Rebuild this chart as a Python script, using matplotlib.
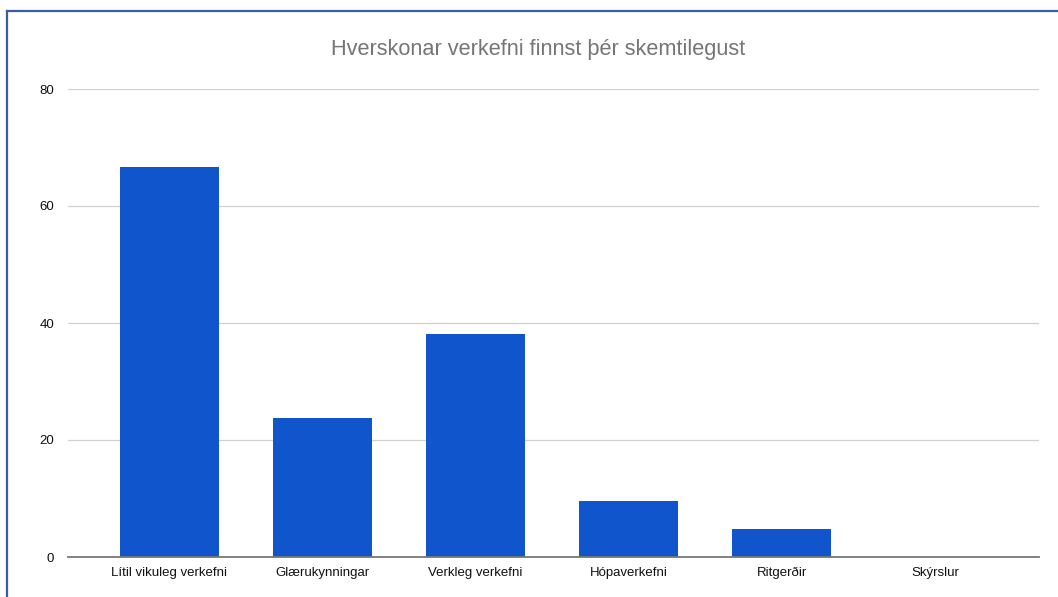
import matplotlib
matplotlib.use("Agg")
import matplotlib.pyplot as plt
from matplotlib.lines import Line2D

# Data
flokkar = ["Lítil vikuleg verkefni", "Glærukynningar", "Verkleg verkefni",
           "Hópaverkefni", "Ritgerðir", "Skýrslur"]
gildi = [66.7, 23.8, 38.1, 9.5, 4.8, 0]
y_ticks = [0, 20, 40, 60, 80]

plt.rcParams["font.family"] = ["Liberation Sans", "DejaVu Sans"]

W, H = 1058, 597
fig = plt.figure(figsize=(W / 100, H / 100), dpi=100)
ax = fig.add_axes([68 / W, 1 - 557 / H, (1039 - 68) / W, (557 - 89) / H])

x = list(range(len(flokkar)))
ax.bar(x, gildi, width=0.647, color="#1155cc", zorder=3)

ax.set_xlim(-0.663, 5.68)
ax.set_ylim(0, 80)
ax.set_yticks(y_ticks)
ax.set_xticks(x)
ax.set_xticklabels(flokkar, va="baseline")
ax.tick_params(axis="both", length=0, labelsize=9.5, colors="#111111")
ax.tick_params(axis="y", pad=10)
ax.tick_params(axis="x", pad=14)

ax.grid(axis="y", color="#d0d0d0", linewidth=0.9, zorder=0)
for s in ["top", "right", "left"]:
    ax.spines[s].set_visible(False)
ax.spines["bottom"].set_color("#777777")
ax.spines["bottom"].set_linewidth(1.3)
ax.spines["bottom"].set_zorder(4)

fig.text(538 / W, 1 - 50 / H, "Hverskonar verkefni finnst þér skemtilegust",
         ha="center", va="center", fontsize=15.7, color="#757575")

# blue frame of the screenshot (left and top edges visible)
fig.add_artist(Line2D([6.5 / W, 6.5 / W], [0, 1 - 10.5 / H],
                      transform=fig.transFigure, color="#3a5ba6", linewidth=1.6))
fig.add_artist(Line2D([6.5 / W, 1], [1 - 10.5 / H, 1 - 10.5 / H],
                      transform=fig.transFigure, color="#3a5ba6", linewidth=1.6))

fig.savefig("out.png", dpi=100)
